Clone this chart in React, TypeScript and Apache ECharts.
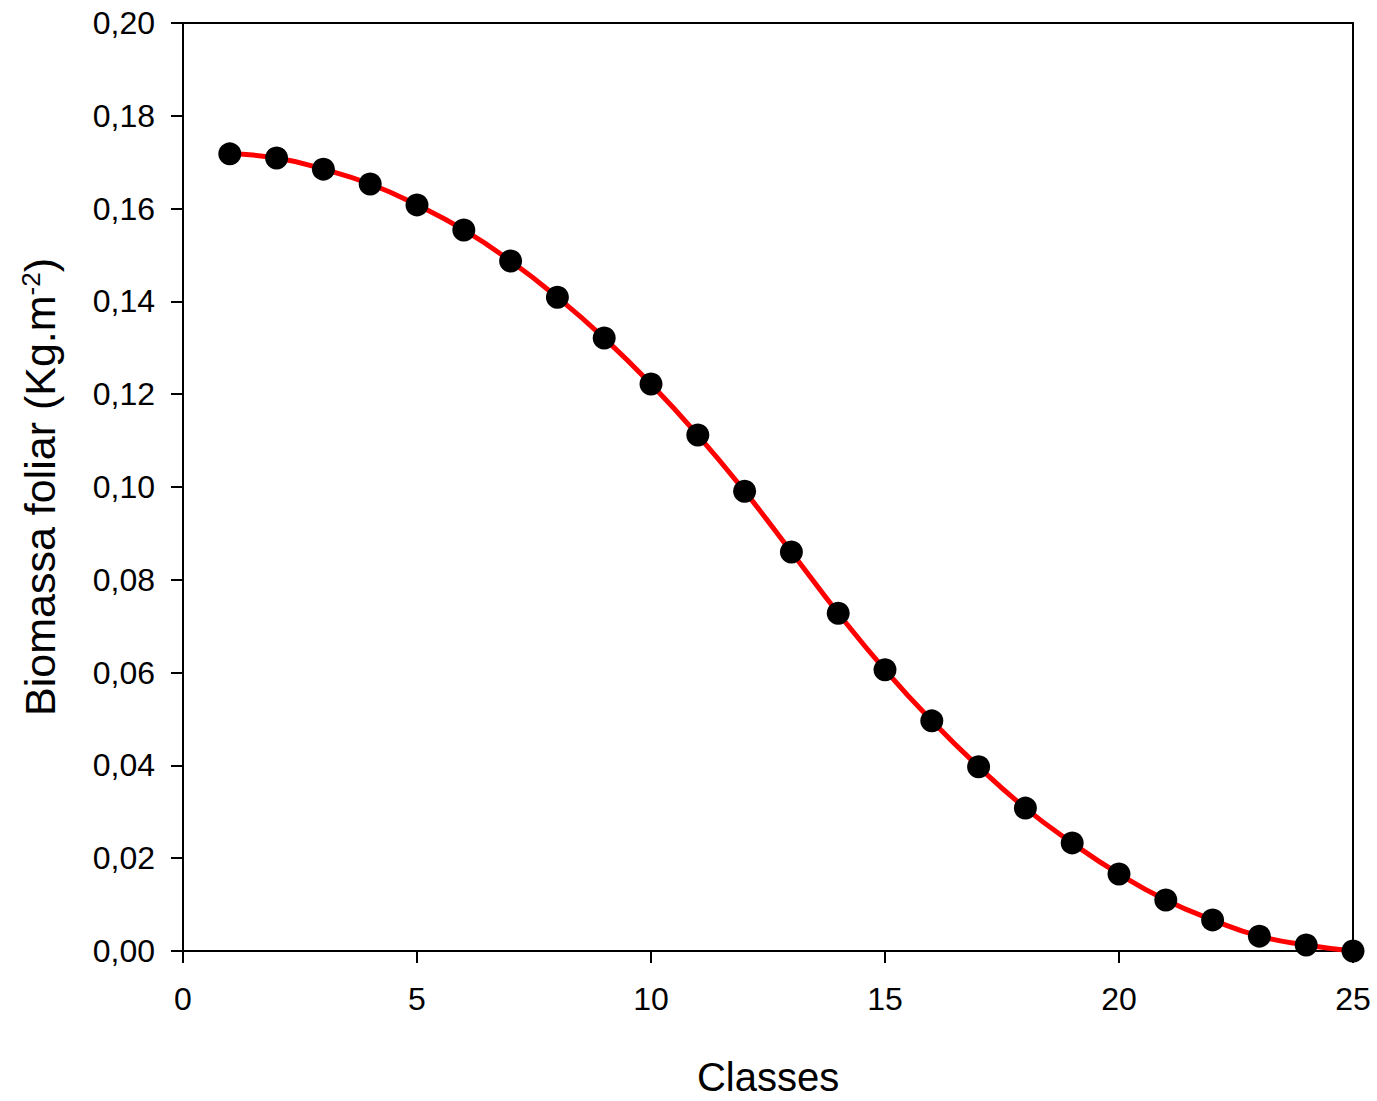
import React, { useEffect, useRef } from "react";
import * as echarts from "echarts";

const classes = [1, 2, 3, 4, 5, 6, 7, 8, 9, 10, 11, 12, 13, 14, 15, 16, 17, 18, 19, 20, 21, 22, 23, 24, 25];
const biomassa = [
  0.1718, 0.1709, 0.1685, 0.1653, 0.1608, 0.1554, 0.1487, 0.1409, 0.1321, 0.1222,
  0.1112, 0.0991, 0.0860, 0.0728, 0.0606, 0.0496, 0.0397, 0.0308, 0.0233, 0.0166,
  0.0110, 0.0067, 0.0032, 0.0013, 0.0,
];
const xTitle = "Classes";
const yTitle = "Biomassa foliar (Kg.m{sup|-2})";

const FONT = "Liberation Sans, Arial, sans-serif";

export default function App() {
  const ref = useRef<HTMLDivElement>(null);
  useEffect(() => {
    if (!ref.current) return;
    const chart = echarts.init(ref.current, null, { renderer: "svg" });
    const pts = classes.map((c, i) => [c, biomassa[i]]);
    chart.setOption({
      animation: false,
      backgroundColor: "#ffffff",
      grid: {
        left: 183,
        right: 24,
        top: 23,
        bottom: 150,
        show: true,
        borderColor: "#000",
        borderWidth: 2,
        containLabel: false,
        outerBoundsMode: "none",
      },
      xAxis: {
        type: "value",
        min: 0,
        max: 25,
        interval: 5,
        name: xTitle,
        nameLocation: "middle",
        nameGap: 106,
        nameTextStyle: { fontFamily: FONT, fontSize: 40, color: "#000" },
        axisLine: { show: true, onZero: false, lineStyle: { color: "#000", width: 2 } },
        axisTick: { show: true, inside: false, length: 12, lineStyle: { color: "#000", width: 2 } },
        axisLabel: {
          fontFamily: FONT,
          fontSize: 32,
          color: "#000",
          margin: 32,
        },
        splitLine: { show: false },
      },
      yAxis: {
        type: "value",
        min: 0,
        max: 0.2,
        interval: 0.02,
        name: yTitle,
        nameLocation: "middle",
        nameRotate: 90,
        nameGap: 122,
        nameTextStyle: {
          fontFamily: FONT,
          fontSize: 43,
          color: "#000",
          rich: {
            sup: { fontFamily: FONT, fontSize: 26, color: "#000", verticalAlign: "top", lineHeight: 26, padding: [0, 0, 20, 0] },
          },
        },
        axisLine: { show: true, onZero: false, lineStyle: { color: "#000", width: 2 } },
        axisTick: { show: true, inside: false, length: 12, lineStyle: { color: "#000", width: 2 } },
        axisLabel: {
          fontFamily: FONT,
          fontSize: 32,
          color: "#000",
          margin: 28,
          formatter: (v: number) => v.toFixed(2).replace(".", ","),
        },
        splitLine: { show: false },
      },
      series: [
        {
          type: "line",
          data: pts,
          smooth: true,
          symbol: "none",
          lineStyle: { color: "#ff0000", width: 5 },
          z: 2,
        },
        {
          type: "scatter",
          data: pts,
          symbol: "circle",
          symbolSize: 23,
          itemStyle: { color: "#000", opacity: 1 },
          z: 3,
        },
      ],
    });
    return () => chart.dispose();
  }, []);
  return (
    <div
      ref={ref}
      style={{ position: "absolute", left: 0, top: 0, width: 1377, height: 1101, background: "#fff" }}
    />
  );
}
